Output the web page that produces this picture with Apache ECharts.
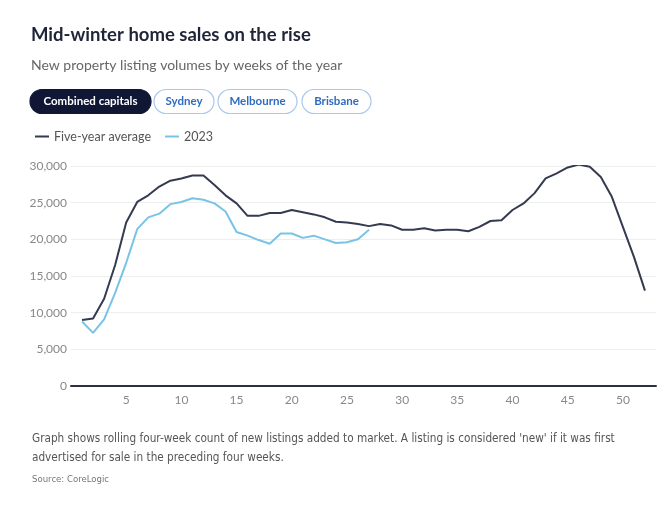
<!DOCTYPE html>
<html><head><meta charset="utf-8">
<script src="https://cdn.jsdelivr.net/npm/echarts@6/dist/echarts.min.js"></script>
<style>html,body{margin:0;padding:0;background:#fff}#c{width:671px;height:507px}</style>
</head><body><div id="c"></div>
<script>
const weeks = Array.from({length:52},(_,i)=>i+1);
const fiveYearAverage = [9000,9200,11900,16500,22300,25100,26000,27200,28000,28300,28700,28700,27400,26000,24900,23200,23200,23600,23600,24000,23700,23400,23000,22400,22300,22100,21800,22100,21900,21300,21300,21500,21200,21300,21300,21100,21700,22500,22600,24000,24900,26300,28300,29000,29800,30200,29900,28500,25800,21700,17600,13000];
const y2023 = [8800,7250,9100,12700,16800,21400,23000,23500,24800,25100,25600,25400,24900,23800,21000,20500,19900,19400,20800,20800,20200,20500,20000,19500,19600,20000,21300];
const xTicks = [5,10,15,20,25,30,35,40,45,50];
const buttons = ['Combined capitals','Sydney','Melbourne','Brisbane'];
const FONT = 'Lato';
const NARROW = '"DejaVu Sans Condensed", Lato';

const chart = echarts.init(document.getElementById('c'), null, {renderer:'canvas'});
const btnX = [30,154,218,302], btnW = [121,60,79,69];
const graphics = [];
buttons.forEach((b,i)=>{
  const active = i===0;
  graphics.push({type:'rect', x:btnX[i], y:89.5, shape:{x:0,y:0,width:btnW[i], height:24, r:12},
    style:{fill: active?'#101735':'#fff', stroke: active?'#101735':'#a9c8ea', lineWidth:1.2}});
  graphics.push({type:'text', x:btnX[i]+btnW[i]/2, y:101.5, style:{text:b, x:0, y:0, textAlign:'center', textVerticalAlign:'middle',
    fill: active?'#fff':'#2e6cbf', font:'bold 11.5px '+FONT}});
});
graphics.push({type:'text', x:32, y:429, style:{text:"Graph shows rolling four-week count of new listings added to market. A listing is considered 'new' if it was first\nadvertised for sale in the preceding four weeks.", fill:'#555', font:'11.7px '+NARROW, lineHeight:19}});
graphics.push({type:'text', x:32, y:475, style:{text:'Source: CoreLogic', fill:'#777', font:'9.5px '+NARROW}});

chart.setOption({
  animation:false,
  textStyle:{fontFamily:FONT},
  title:{text:'Mid-winter home sales on the rise', subtext:'New property listing volumes by weeks of the year', left:26, top:21, itemGap:13,
    textStyle:{fontSize:18.5, fontWeight:'bold', color:'#1f2436', fontFamily:FONT},
    subtextStyle:{fontSize:14, color:'#666', fontFamily:FONT}},
  legend:{left:30, top:125, itemWidth:14, itemHeight:2, itemGap:14, icon:'rect',
    textStyle:{fontSize:12.5, color:'#555', fontFamily:FONT},
    data:['Five-year average','2023']},
  graphic: graphics,
  grid:{left:71, right:15, top:166, bottom:121},
  xAxis:{type:'value', min:0, max:53, interval:5,
    axisLine:{show:true, onZero:false, lineStyle:{color:'#2b3047', width:2}},
    axisTick:{show:false}, splitLine:{show:false},
    axisLabel:{color:'#888', fontSize:12, margin:8, formatter:v=>xTicks.includes(v)?String(v):''}},
  yAxis:{type:'value', min:0, max:30000, interval:5000,
    axisLine:{show:false}, axisTick:{show:false},
    splitLine:{lineStyle:{color:'#eeeeee', width:1}},
    axisLabel:{color:'#888', fontSize:12, margin:4, formatter:v=>v.toLocaleString('en-US')}},
  series:[
    {name:'Five-year average', type:'line', showSymbol:false, symbol:'none', color:'#343a50',
      lineStyle:{width:2, color:'#343a50'}, data:weeks.map((w,i)=>[w,fiveYearAverage[i]])},
    {name:'2023', type:'line', showSymbol:false, symbol:'none', color:'#79c3e6',
      lineStyle:{width:2, color:'#79c3e6'}, data:y2023.map((v,i)=>[weeks[i],v])}
  ]
});
</script></body></html>
